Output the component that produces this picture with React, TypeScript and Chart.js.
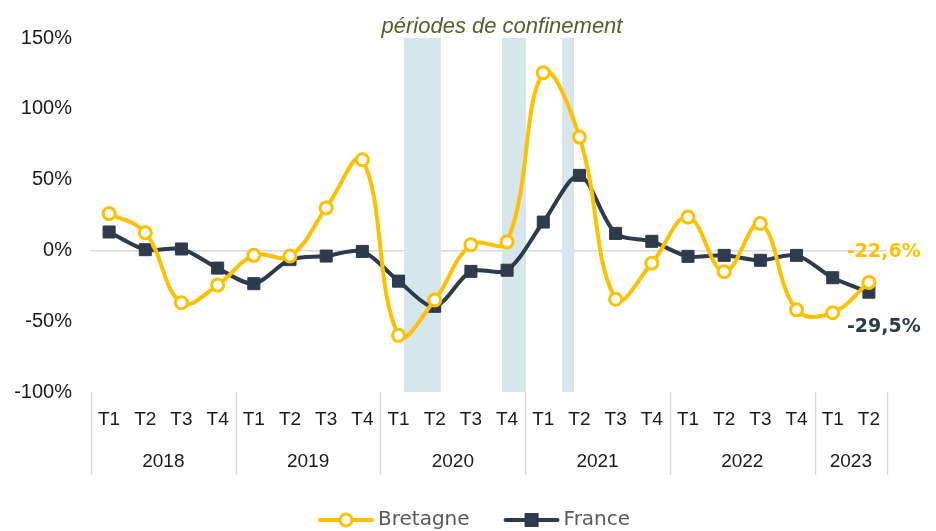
import { useEffect, useRef } from 'react';
import { Chart, registerables } from 'chart.js';

Chart.register(...registerables);

// ---- data ----
const quarters = [
  'T1', 'T2', 'T3', 'T4',
  'T1', 'T2', 'T3', 'T4',
  'T1', 'T2', 'T3', 'T4',
  'T1', 'T2', 'T3', 'T4',
  'T1', 'T2', 'T3', 'T4',
  'T1', 'T2',
];
const quarterYears = [
  '2018', '2018', '2018', '2018',
  '2019', '2019', '2019', '2019',
  '2020', '2020', '2020', '2020',
  '2021', '2021', '2021', '2021',
  '2022', '2022', '2022', '2022',
  '2023', '2023',
];
const bretagne = [26, 12.5, -37, -24.5, -3.5, -4, 30, 64, -60, -35, 4, 6, 125.5, 80, -34.5, -9, 23.5, -15, 19, -42, -44, -22.6];
const france = [13, 0.5, 1, -12.5, -23.5, -6.5, -4, -0.7, -21.7, -39.5, -14.8, -14, 20, 53, 12, 6.4, -4.2, -3.5, -7, -3.5, -19.3, -29.5];
const yMin = -100;
const yMax = 150;
const yStep = 50;
// lockdown periods, expressed in category-index units (start, end)
const lockdowns: [number, number][] = [[8.15, 9.17], [10.86, 11.52], [12.52, 12.85]];
const lockdownLabel = 'périodes de confinement';

const YELLOW = '#FFC000';
const DARK = '#2D3B4C';
const BAND = '#D5E6EC';
const TEXT = '#1a1a1a';

const fmt = (v: number) => v.toFixed(1).replace('.', ',') + '%';

const decor = {
  id: 'decor',
  beforeDatasetsDraw(chart: any) {
    const { ctx, scales: { x, y } } = chart;
    ctx.save();
    ctx.fillStyle = BAND;
    const top = y.getPixelForValue(yMax);
    const bot = y.getPixelForValue(yMin);
    lockdowns.forEach(([a, b]) => {
      const x0 = x.getPixelForValue(a);
      const x1 = x.getPixelForValue(b);
      ctx.fillRect(x0, top, x1 - x0, bot - top);
    });
    ctx.restore();
  },
  afterDraw(chart: any) {
    const { ctx, chartArea, scales: { x, y } } = chart;
    ctx.save();

    // year separators & labels
    const groups: { year: string; start: number; end: number }[] = [];
    quarterYears.forEach((yr, i) => {
      const g = groups[groups.length - 1];
      if (g && g.year === yr) g.end = i;
      else groups.push({ year: yr, start: i, end: i });
    });
    ctx.strokeStyle = '#D9D9D9';
    ctx.lineWidth = 1.5;
    const sepTop = chartArea.bottom;
    const sepBot = chartArea.bottom + 83;
    const drawSep = (v: number) => {
      const px = Math.round(x.getPixelForValue(v)) + 0.5;
      ctx.beginPath();
      ctx.moveTo(px, sepTop);
      ctx.lineTo(px, sepBot);
      ctx.stroke();
    };
    groups.forEach((g) => drawSep(g.start - 0.5));
    drawSep(groups[groups.length - 1].end + 0.5);
    ctx.fillStyle = TEXT;
    ctx.font = '19px "Liberation Sans", Arial, sans-serif';
    ctx.textAlign = 'center';
    ctx.textBaseline = 'middle';
    groups.forEach((g) => {
      const cx = (x.getPixelForValue(g.start - 0.5) + x.getPixelForValue(g.end + 0.5)) / 2;
      ctx.fillText(g.year, cx, chartArea.bottom + 70);
    });

    // title annotation
    ctx.fillStyle = '#4F6228';
    ctx.font = 'italic 22px "Liberation Sans", Arial, sans-serif';
    ctx.textAlign = 'center';
    ctx.textBaseline = 'alphabetic';
    ctx.fillText(lockdownLabel, 502, 33);

    // end labels
    const last = quarters.length - 1;
    const xl = x.getPixelForValue(last);
    ctx.font = 'bold 19px "DejaVu Sans", sans-serif';
    ctx.textAlign = 'left';
    ctx.textBaseline = 'middle';
    ctx.fillStyle = YELLOW;
    ctx.fillText(fmt(bretagne[last]), xl - 22, y.getPixelForValue(bretagne[last]) - 30);
    ctx.fillStyle = DARK;
    ctx.fillText(fmt(france[last]), xl - 22, y.getPixelForValue(france[last]) + 35);

    // legend
    const ly = 520;
    const ds = chart.data.datasets;
    ctx.font = '20px "DejaVu Sans", sans-serif';
    let lx = 318;
    ds.forEach((d: any, i: number) => {
      ctx.strokeStyle = d.borderColor;
      ctx.lineWidth = 4;
      ctx.lineCap = 'round';
      ctx.beginPath();
      ctx.moveTo(lx + 2, ly);
      ctx.lineTo(lx + 54, ly);
      ctx.stroke();
      const mx = lx + 28;
      if (i === 0) {
        ctx.fillStyle = '#fff';
        ctx.lineWidth = 3;
        ctx.beginPath();
        ctx.arc(mx, ly, 6, 0, Math.PI * 2);
        ctx.fill();
        ctx.stroke();
      } else {
        ctx.fillStyle = d.borderColor;
        ctx.fillRect(mx - 7, ly - 7, 14, 14);
      }
      ctx.fillStyle = '#595959';
      ctx.textAlign = 'left';
      ctx.fillText(d.label, lx + 60, ly);
      lx = lx + 60 + ctx.measureText(d.label).width + 34;
    });

    ctx.restore();
  },
};

export default function App() {
  const ref = useRef<HTMLCanvasElement>(null);
  useEffect(() => {
    const chart = new Chart(ref.current!, {
      type: 'line',
      data: {
        labels: quarters,
        datasets: [
          {
            label: 'Bretagne',
            data: bretagne,
            borderColor: YELLOW,
            borderWidth: 4,
            pointRadius: 6,
            pointBorderWidth: 3,
            pointBackgroundColor: '#ffffff',
            pointBorderColor: YELLOW,
            pointStyle: 'circle',
            tension: 0.4,
            order: 0,
          },
          {
            label: 'France',
            data: france,
            borderColor: DARK,
            backgroundColor: DARK,
            borderWidth: 4,
            pointRadius: 8.5,
            pointBorderWidth: 1,
            pointBackgroundColor: DARK,
            pointBorderColor: DARK,
            pointStyle: 'rect',
            tension: 0.3,
            order: 1,
          },
        ],
      },
      options: {
        animation: false,
        responsive: true,
        maintainAspectRatio: false,
        layout: { padding: { top: 38, right: 49, left: 0, bottom: 0 } },
        plugins: {
          legend: { display: false },
          tooltip: { enabled: false },
        },
        scales: {
          x: {
            offset: true,
            grid: { display: false, drawTicks: false },
            border: { display: false },
            ticks: {
              color: TEXT,
              font: { family: '"Liberation Sans", Arial, sans-serif', size: 19 },
              padding: 16,
              maxRotation: 0,
              autoSkip: false,
            },
            afterFit: (s: any) => { s.height = 139; },
          },
          y: {
            min: yMin,
            max: yMax,
            grid: {
              drawTicks: false,
              color: (c: any) => (c.tick && c.tick.value === 0 ? '#D9D9D9' : 'rgba(0,0,0,0)'),
              lineWidth: 1.5,
            },
            border: { display: false },
            ticks: {
              stepSize: yStep,
              color: TEXT,
              font: { family: '"Liberation Sans", Arial, sans-serif', size: 20 },
              padding: 19,
              callback: (v: any) => v + '%',
            },
            afterFit: (s: any) => { s.width = 91; },
          },
        },
      },
      plugins: [decor],
    });
    return () => chart.destroy();
  }, []);
  return (
    <div style={{ position: 'fixed', left: 0, top: 0, width: 936, height: 531 }}>
      <canvas ref={ref} />
    </div>
  );
}
